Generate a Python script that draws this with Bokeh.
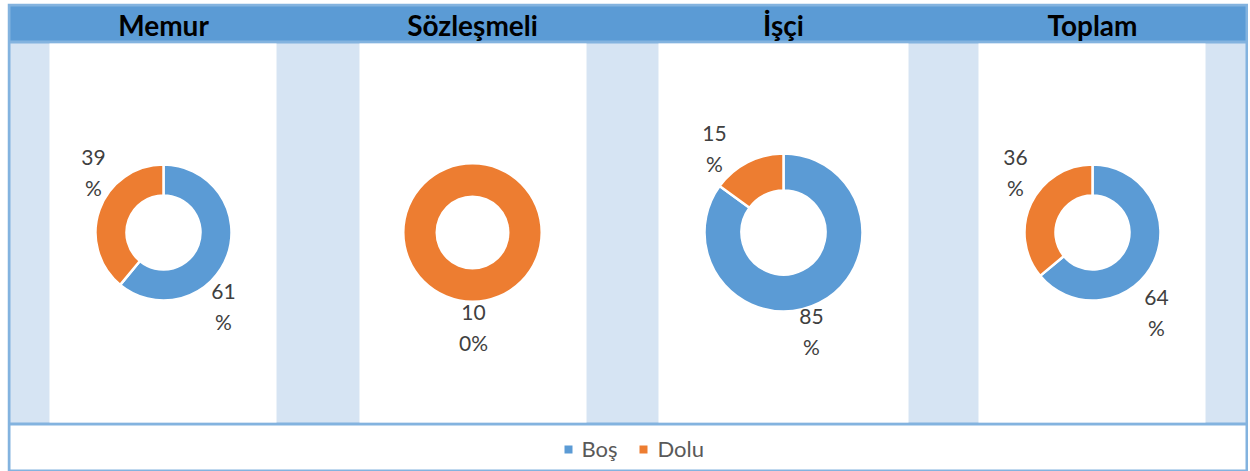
import math
from bokeh.plotting import figure
from bokeh.models import Range1d
from bokeh.embed import file_html
from bokeh.resources import INLINE
from bokeh.core.properties import value

# ---- data ----
categories = ["Memur", "Sözleşmeli", "İşçi", "Toplam"]
series = ["Boş", "Dolu"]
bos = [61, 0, 85, 64]
dolu = [39, 100, 15, 36]
series_colors = ["#5B9BD5", "#ED7D31"]

# ---- layout (reference pixel coordinates) ----
centers_x = [163, 472, 783, 1092]
center_y = 232
radii = [(37, 68), (37, 68), (42, 79), (37, 68)]
white_cols = [(49, 276), (359, 586), (658, 908), (978, 1205)]
# label offsets (first line) from donut center, per category, per series
label_off = [
    [(60, 59), (-70, -75)],
    [(0, 0), (1, 80)],
    [(28, 84), (-69, -99)],
    [(64, 65), (-77, -75)],
]
LINE_GAP = 30

BORDER = "#83B3DF"
HEADER = "#5B9BD5"
LIGHT = "#D6E4F3"

W, H = 1241, 468


def Y(y):
    return 471 - y


p = figure(width=W, height=H, x_range=Range1d(7, 1248), y_range=Range1d(0, 468),
           output_backend="svg", toolbar_location=None, min_border=0)
p.axis.visible = False
p.grid.visible = False
p.outline_line_color = None
p.background_fill_color = "white"
p.border_fill_color = "white"
p.margin = (3, 0, 0, 7)

# frame
p.quad(left=[7], right=[1248], bottom=[Y(471)], top=[Y(3)], fill_color=BORDER, line_color=None)
p.quad(left=[10], right=[1245], bottom=[Y(40)], top=[Y(6)], fill_color=HEADER, line_color=None)
p.quad(left=[10], right=[1245], bottom=[Y(422)], top=[Y(43)], fill_color=LIGHT, line_color=None)
p.quad(left=[c[0] for c in white_cols], right=[c[1] for c in white_cols],
       bottom=[Y(422)] * 4, top=[Y(43)] * 4, fill_color="white", line_color=None)
p.quad(left=[10], right=[1245], bottom=[Y(469)], top=[Y(425)], fill_color="white", line_color=None)

# titles
p.text(x=centers_x, y=[Y(24)] * 4, text=categories, text_font=value("Lato"),
       text_font_style="bold", text_font_size="28px", text_color="black",
       text_align="center", text_baseline="middle")

# donuts
for i, cat in enumerate(categories):
    vals = [bos[i], dolu[i]]
    total = sum(vals)
    cum = 0
    ri, ro = radii[i]
    cx, cy = centers_x[i], Y(center_y)
    for j, v in enumerate(vals):
        if v <= 0:
            continue
        if v >= total:
            p.annulus(x=[cx], y=[cy], inner_radius=ri, outer_radius=ro,
                      inner_radius_units="screen", outer_radius_units="screen",
                      fill_color=series_colors[j], line_color=None)
        else:
            sa = math.pi / 2 - 2 * math.pi * cum / total
            ea = math.pi / 2 - 2 * math.pi * (cum + v) / total
            p.annular_wedge(x=[cx], y=[cy], inner_radius=ri, outer_radius=ro,
                            inner_radius_units="screen", outer_radius_units="screen",
                            start_angle=sa, end_angle=ea, direction="clock",
                            fill_color=series_colors[j], line_color="white", line_width=2.5)
        cum += v
        lab = f"{round(100 * v / total)}%"
        lines = [lab[:2], lab[2:]]
        dx, dy = label_off[i][j]
        lx = centers_x[i] + dx
        ly = center_y + dy
        p.text(x=[lx, lx], y=[Y(ly), Y(ly + LINE_GAP)], text=lines, text_font=value("Lato"),
               text_font_size="21px", text_color="#404040", text_align="center",
               text_baseline="middle")

# legend
leg_sq_x = [568, 643]
leg_tx_x = [581, 657]
p.rect(x=leg_sq_x, y=[Y(449)] * 2, width=8, height=8, fill_color=series_colors, line_color=None)
p.text(x=leg_tx_x, y=[Y(448)] * 2, text=series, text_font=value("Lato"), text_font_size="22px",
       text_color="#595959", text_align="left", text_baseline="middle")

open("out.html", "w").write(file_html(p, INLINE))
